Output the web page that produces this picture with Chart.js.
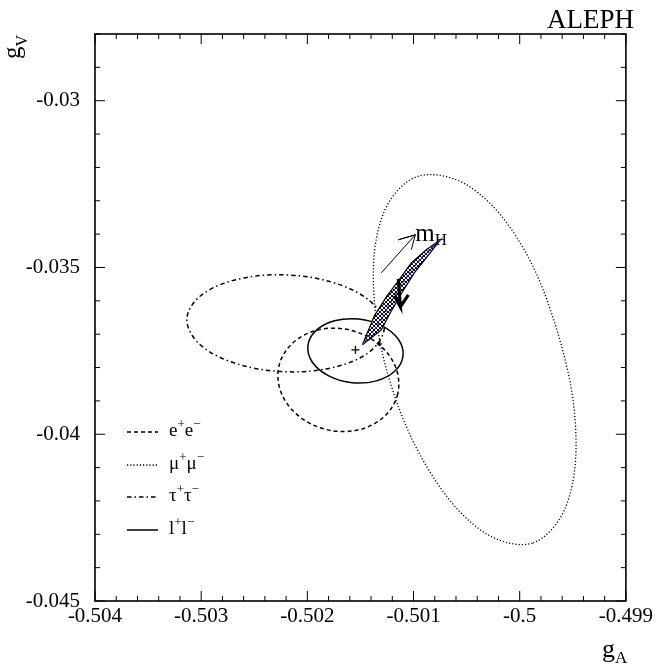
<!DOCTYPE html>
<html>
<head>
<meta charset="utf-8">
<script src="https://cdn.jsdelivr.net/npm/chart.js@4.4.0/dist/chart.umd.min.js"></script>
<style>
  html, body { margin: 0; padding: 0; background: #fff; }
  #box { width: 656px; height: 671px; }
</style>
</head>
<body>
<div id="box"><canvas id="myChart" width="656" height="671"></canvas></div>
<script>
// Contours in the (gA, gV) plane
const eeA = [-0.501149, -0.501279, -0.501524, -0.501818, -0.502083, -0.502247, -0.502267, -0.502136, -0.501891, -0.501597, -0.501333, -0.501168];
const eeV = [-0.038793, -0.03948, -0.039873, -0.039861, -0.03945, -0.038751, -0.037949, -0.03726, -0.036867, -0.036879, -0.03729, -0.037989];

const mmA = [-0.49988, -0.500345, -0.500831, -0.501208, -0.501375, -0.501287, -0.500968, -0.500485, -0.499996, -0.49964, -0.499473, -0.499561];
const mmV = [-0.043263, -0.042923, -0.041202, -0.038562, -0.035709, -0.033408, -0.032277, -0.03255, -0.03426, -0.036978, -0.039831, -0.042132];

const ttA = [-0.501275, -0.50141, -0.501758, -0.502226, -0.502688, -0.503021, -0.503135, -0.503, -0.502652, -0.502184, -0.501722, -0.501389];
const ttV = [-0.03681, -0.037517, -0.037998, -0.038124, -0.037863, -0.037283, -0.03654, -0.035834, -0.035352, -0.035226, -0.035487, -0.036068];

const llA = [-0.501099, -0.501175, -0.50135, -0.501578, -0.501798, -0.501951, -0.501995, -0.501919, -0.501744, -0.501516, -0.501296, -0.501143];
const llV = [-0.03765, -0.038106, -0.0384, -0.038454, -0.03825, -0.037848, -0.03735, -0.036894, -0.0366, -0.036546, -0.03675, -0.037152];

// Standard Model band (m_H varying) and its central line
const bandA = [-0.501481, -0.501369, -0.501256, -0.501143, -0.501021, -0.50088, -0.500748, -0.50088, -0.500993, -0.501105, -0.501209, -0.501303, -0.501481];
const bandV = [-0.03732, -0.03645, -0.03588, -0.0354, -0.03486, -0.03447, -0.03417, -0.03471, -0.03516, -0.03573, -0.0363, -0.03687, -0.03732];
const smA = [-0.501481, -0.501331, -0.501199, -0.501049, -0.500899, -0.500748];
const smV = [-0.03732, -0.03669, -0.03597, -0.03522, -0.03462, -0.03417];

// arrows: stem start, tip, wing, tip, wing
const mhArrowA = [-0.501303, -0.500983, -0.501143, -0.500983, -0.501021];
const mhArrowV = [-0.03516, -0.03402, -0.03417, -0.03402, -0.03447];
const bigArrowA = [-0.501143, -0.501124, -0.501181, -0.501124, -0.501049];
const bigArrowV = [-0.03534, -0.03618, -0.03585, -0.03618, -0.03582];

// fitted point and one SM point
const markA = [-0.501547, -0.501322];
const markV = [-0.03747, -0.03729];

const legendNames = ['e', 'μ', 'τ', 'l'];
const xMin = -0.504, xMax = -0.499, xStep = 0.0002, xMajor = 0.001;
const yMin = -0.045, yMax = -0.028, yStep = 0.001, yMajor = 0.005;

const toPts = (xs, ys) => xs.map((v, i) => ({ x: v, y: ys[i] }));
const isMult = (v, step) => Math.abs(v / step - Math.round(v / step)) < 1e-6;

const SERIF = "'Liberation Serif', 'DejaVu Serif', serif";
const styles = [
  { dash: [4, 3], width: 1.5 },
  { dash: [1.2, 2], width: 1.3 },
  { dash: [4.5, 3, 1.5, 3], width: 1.5 },
  { dash: [], width: 1.5 },
];

// cross-hatch pattern for the band
const pc = document.createElement('canvas');
pc.width = 4; pc.height = 4;
const pctx = pc.getContext('2d');
pctx.fillStyle = '#fff';
pctx.fillRect(0, 0, 4, 4);
pctx.strokeStyle = '#000';
pctx.lineWidth = 1;
pctx.beginPath();
pctx.moveTo(0, 0); pctx.lineTo(4, 4);
pctx.moveTo(0, 4); pctx.lineTo(4, 0);
pctx.stroke();
const hatch = document.getElementById('myChart').getContext('2d').createPattern(pc, 'repeat');

const contour = (xs, ys, st) => ({
  data: toPts(xs, ys),
  showLine: true,
  closed: true,
  borderColor: '#000',
  borderWidth: st.width,
  borderDash: st.dash,
  pointRadius: 0,
  tension: 0.35,
  fill: false,
  order: 10,
});

// makes the contour lines close smoothly
const loopPlugin = {
  id: 'closedLoop',
  afterDatasetUpdate(chart, args) {
    const ds = chart.data.datasets[args.index];
    if (ds.closed) {
      args.meta.dataset._loop = true;
      args.meta.dataset._fullLoop = true;
    }
  },
};

function supText(ctx, x, y, base, sup, size) {
  ctx.font = size + 'px ' + SERIF;
  ctx.fillText(base, x, y);
  x += ctx.measureText(base).width;
  ctx.font = Math.round(size * 0.68) + 'px ' + SERIF;
  ctx.fillText(sup, x, y - size * 0.42);
  return x + ctx.measureText(sup).width;
}
function subText(ctx, x, y, base, sub, size, subSize, drop) {
  ctx.font = size + 'px ' + SERIF;
  ctx.fillText(base, x, y);
  x += ctx.measureText(base).width;
  ctx.font = subSize + 'px ' + SERIF;
  ctx.fillText(sub, x, y + drop);
}

const framePlugin = {
  id: 'frameTicks',
  afterDraw(chart) {
    const { ctx, chartArea: a, scales: { x, y } } = chart;
    ctx.save();
    ctx.strokeStyle = '#000';
    ctx.lineWidth = 1;
    ctx.setLineDash([]);
    ctx.beginPath();
    x.ticks.forEach(t => {
      const p = x.getPixelForValue(t.value);
      const len = isMult(t.value, xMajor) ? 10 : 5;
      ctx.moveTo(p, a.bottom); ctx.lineTo(p, a.bottom - len);
      ctx.moveTo(p, a.top); ctx.lineTo(p, a.top + len);
    });
    y.ticks.forEach(t => {
      const p = y.getPixelForValue(t.value);
      const len = isMult(t.value, yMajor) ? 10 : 5;
      ctx.moveTo(a.left, p); ctx.lineTo(a.left + len, p);
      ctx.moveTo(a.right, p); ctx.lineTo(a.right - len, p);
    });
    ctx.stroke();
    ctx.lineWidth = 1.6;
    ctx.strokeRect(a.left, a.top, a.right - a.left, a.bottom - a.top);

    // legend
    ctx.fillStyle = '#000';
    ctx.textBaseline = 'alphabetic';
    ctx.textAlign = 'left';
    const rows = [432, 465, 497, 530];
    legendNames.forEach((n, i) => {
      const st = styles[i];
      ctx.lineWidth = st.width;
      ctx.setLineDash(st.dash);
      ctx.beginPath();
      ctx.moveTo(a.left + 32, rows[i]);
      ctx.lineTo(a.left + 63, rows[i]);
      ctx.stroke();
      ctx.setLineDash([]);
      let tx = a.left + 74;
      tx = supText(ctx, tx, rows[i] + 4, n, '+', 19);
      supText(ctx, tx, rows[i] + 4, n, '−', 19);
    });

    // m_H label next to the arrow tip
    const tx = x.getPixelForValue(mhArrowA[1]);
    const ty = y.getPixelForValue(mhArrowV[1]);
    subText(ctx, tx, ty + 6, 'm', 'H', 25, 17, 4);

    // titles
    ctx.font = '27px ' + SERIF;
    ctx.textAlign = 'right';
    ctx.fillText('ALEPH', 634, 28);
    ctx.textAlign = 'left';
    subText(ctx, 602, 657, 'g', 'A', 26, 17, 6);
    ctx.save();
    ctx.translate(20, 59);
    ctx.rotate(-Math.PI / 2);
    subText(ctx, 0, 0, 'g', 'V', 25, 16, 7);
    ctx.restore();
    ctx.restore();
  },
};

const ctx = document.getElementById('myChart').getContext('2d');
const chart = new Chart(ctx, {
  type: 'scatter',
  data: {
    datasets: [
      {
        data: toPts(bandA, bandV),
        showLine: true,
        borderColor: '#000',
        borderWidth: 1.2,
        backgroundColor: hatch,
        fill: 'shape',
        pointRadius: 0,
        tension: 0,
        order: 4,
      },
      {
        data: toPts(smA, smV),
        showLine: true,
        borderColor: '#1f2fff',
        borderWidth: 1.5,
        borderDash: [2.5, 2.5],
        pointRadius: 0,
        tension: 0.3,
        order: 3,
      },
      {
        data: toPts(bigArrowA, bigArrowV),
        showLine: true,
        borderColor: '#000',
        borderWidth: 3.2,
        borderJoinStyle: 'miter',
        pointRadius: 0,
        tension: 0,
        order: 1,
      },
      {
        data: toPts(mhArrowA, mhArrowV),
        showLine: true,
        borderColor: '#000',
        borderWidth: 1,
        pointRadius: 0,
        tension: 0,
        order: 1,
      },
      {
        data: toPts(markA, markV),
        showLine: false,
        pointStyle: 'cross',
        pointRadius: [4, 2.5],
        borderColor: '#000',
        borderWidth: 1.3,
        order: 0,
      },
      contour(eeA, eeV, styles[0]),
      contour(mmA, mmV, styles[1]),
      contour(ttA, ttV, styles[2]),
      contour(llA, llV, styles[3]),
    ],
  },
  options: {
    responsive: false,
    animation: false,
    events: [],
    layout: { padding: { left: 0, right: 27, top: 34, bottom: 40 } },
    plugins: { legend: { display: false }, tooltip: { enabled: false } },
    scales: {
      x: {
        type: 'linear',
        min: xMin,
        max: xMax,
        grid: { display: false, drawTicks: false },
        border: { display: false },
        afterFit: s => { s.height = 30; },
        ticks: {
          stepSize: xStep,
          autoSkip: false,
          maxRotation: 0,
          padding: 3,
          color: '#000',
          font: { family: SERIF, size: 21 },
          callback: v => isMult(v, xMajor) ? String(+v.toFixed(3)) : '',
        },
      },
      y: {
        type: 'linear',
        min: yMin,
        max: yMax,
        grid: { display: false, drawTicks: false },
        border: { display: false },
        afterFit: s => { s.width = 95; },
        ticks: {
          stepSize: yStep,
          autoSkip: false,
          padding: 15,
          color: '#000',
          font: { family: SERIF, size: 21 },
          callback: v => isMult(v, yMajor) ? String(+v.toFixed(3)) : '',
        },
      },
    },
  },
  plugins: [loopPlugin, framePlugin],
});
</script>
</body>
</html>
